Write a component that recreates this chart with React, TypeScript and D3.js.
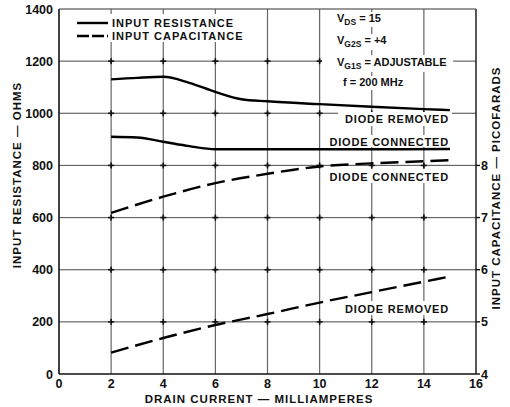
import React from "react";
import * as d3 from "d3";

const xTicks = [0, 2, 4, 6, 8, 10, 12, 14, 16];
const yTicks = [0, 200, 400, 600, 800, 1000, 1200, 1400];
const capTicks = [4, 5, 6, 7, 8];

const resRemovedX = [2, 3, 4, 5, 6, 7, 8, 10, 12, 14, 15];
const resRemovedY = [1130, 1136, 1140, 1117, 1082, 1054, 1046, 1035, 1025, 1016, 1012];
const resConnX = [2, 3, 4, 5, 6, 8, 10, 12, 15];
const resConnY = [910, 907, 891, 874, 862, 862, 862, 862, 863];
const capConnX = [2, 4, 6, 8, 10, 12, 14, 15];
const capConnY = [7.09, 7.4, 7.66, 7.84, 7.98, 8.04, 8.08, 8.1];
const capRemX = [2, 4, 6, 8, 10, 12, 14, 15];
const capRemY = [4.41, 4.69, 4.94, 5.15, 5.37, 5.57, 5.77, 5.87];

const W = 510, H = 407;
const L = 59, R = 476, T = 9, B = 374;
const font = "'Liberation Sans', Arial, sans-serif";

export default function App() {
  const x = d3.scaleLinear().domain([0, 16]).range([L, R]);
  const y = d3.scaleLinear().domain([0, 1400]).range([B, T]);
  const yc = d3.scaleLinear().domain([4, 11]).range([B, T]);

  const line = d3.line<[number, number]>().x(d => d[0]).y(d => d[1]).curve(d3.curveMonotoneX);
  const zipR = (xs: number[], ys: number[]) => xs.map((v, i) => [x(v), y(ys[i])] as [number, number]);
  const zipC = (xs: number[], ys: number[]) => xs.map((v, i) => [x(v), yc(ys[i])] as [number, number]);

  const txt = { fontFamily: font, fontWeight: 700, fill: "#111" } as const;

  const inner = xTicks.slice(1, -1);
  const innerY = yTicks.slice(1, -1);

  return (
    <svg width={W} height={H} style={{ position: "absolute", left: 0, top: 0, background: "#fff" }}>
      <rect x={0} y={0} width={W} height={H} fill="#fff" />
      {inner.map(t => (
        <rect key={"gx" + t} x={x(t) - 0.6} y={T} width={1.2} height={B - T} fill="#666" />
      ))}
      {innerY.map(t => (
        <rect key={"gy" + t} x={L} y={y(t) - 0.6} width={R - L} height={1.2} fill="#666" />
      ))}
      {inner.flatMap(tx =>
        innerY.map(ty => (
          <g key={"c" + tx + "_" + ty}>
            <rect x={x(tx) - 3} y={y(ty) - 0.8} width={6} height={1.6} fill="#111" />
            <rect x={x(tx) - 0.8} y={y(ty) - 3} width={1.6} height={6} fill="#111" />
          </g>
        ))
      )}
      {/* frame */}
      <line x1={L} x2={L} y1={T} y2={B} stroke="#111" strokeWidth={1.6} />
      <line x1={L} x2={R} y1={B} y2={B} stroke="#111" strokeWidth={1.6} />
      <line x1={R} x2={R} y1={T} y2={B} stroke="#111" strokeWidth={1.4} />
      <rect x={L} y={T - 0.6} width={R - L} height={1.2} fill="#555" />
      {capTicks.map(t => (
        <rect key={"rt" + t} x={R} y={yc(t) - 0.7} width={4} height={1.4} fill="#111" />
      ))}

      {/* white label backgrounds */}
      <rect x={338} y={112} width={114} height={14} fill="#fff" />
      <rect x={327} y={135} width={125} height={12} fill="#fff" />
      <rect x={327} y={169} width={125} height={14} fill="#fff" />
      <rect x={338} y={301} width={114} height={14} fill="#fff" />
      <rect x={74} y={14} width={170} height={28} fill="#fff" />
      <rect x={334} y={12} width={52} height={15} fill="#fff" />
      <rect x={334} y={34} width={58} height={16} fill="#fff" />
      <rect x={322} y={55} width={131} height={17} fill="#fff" />
      <rect x={340} y={76} width={76} height={14} fill="#fff" />

      {/* curves */}
      <path d={line(zipR(resRemovedX, resRemovedY)) || ""} fill="none" stroke="#000" strokeWidth={2.4} />
      <path d={line(zipR(resConnX, resConnY)) || ""} fill="none" stroke="#000" strokeWidth={2.4} />
      <path d={line(zipC(capConnX, capConnY)) || ""} fill="none" stroke="#000" strokeWidth={2.4} strokeDasharray="18 7" />
      <path d={line(zipC(capRemX, capRemY)) || ""} fill="none" stroke="#000" strokeWidth={2.4} strokeDasharray="18 7" />

      {/* tick labels */}
      {yTicks.map(t => (
        <text key={"yl" + t} x={53} y={y(t) + 4.5} textAnchor="end" fontSize={12.5} {...txt}>{t}</text>
      ))}
      {xTicks.map(t => (
        <text key={"xl" + t} x={x(t)} y={388} textAnchor="middle" fontSize={12.5} {...txt}>{t}</text>
      ))}
      {capTicks.map(t => (
        <text key={"cl" + t} x={481} y={yc(t) + 4.5} textAnchor="start" fontSize={12.5} {...txt}>{t}</text>
      ))}

      {/* axis titles */}
      <text x={259} y={403} textAnchor="middle" fontSize={11.5} letterSpacing={1} {...txt}>DRAIN CURRENT — MILLIAMPERES</text>
      <text transform={`translate(21,175) rotate(-90)`} textAnchor="middle" fontSize={11.5} letterSpacing={1} {...txt}>INPUT RESISTANCE — OHMS</text>
      <text transform={`translate(500,188) rotate(-90)`} textAnchor="middle" fontSize={11.5} letterSpacing={1} {...txt}>INPUT CAPACITANCE — PICOFARADS</text>

      {/* legend */}
      <line x1={77} x2={108} y1={23} y2={23} stroke="#000" strokeWidth={2.4} />
      <line x1={77} x2={108} y1={36} y2={36} stroke="#000" strokeWidth={2.4} strokeDasharray="12 3" />
      <text x={112} y={27} fontSize={11} letterSpacing={1} {...txt}>INPUT RESISTANCE</text>
      <text x={112} y={40} fontSize={11} letterSpacing={1} {...txt}>INPUT CAPACITANCE</text>

      {/* conditions */}
      <text x={337} y={22} fontSize={11} {...txt}>V<tspan fontSize={8.5} dy={3}>DS</tspan><tspan dy={-3}> = 15</tspan></text>
      <text x={337} y={44} fontSize={11} {...txt}>V<tspan fontSize={8.5} dy={3}>G2S</tspan><tspan dy={-3}> = +4</tspan></text>
      <text x={337} y={66} fontSize={11} {...txt}>V<tspan fontSize={8.5} dy={3}>G1S</tspan><tspan dy={-3}> = ADJUSTABLE</tspan></text>
      <text x={343} y={86} fontSize={11} {...txt}>f = 200 MHz</text>

      {/* curve labels */}
      <text x={449} y={123} textAnchor="end" fontSize={11} letterSpacing={0.8} {...txt}>DIODE REMOVED</text>
      <text x={449} y={146} textAnchor="end" fontSize={11} letterSpacing={0.8} {...txt}>DIODE CONNECTED</text>
      <text x={449} y={181} textAnchor="end" fontSize={11} letterSpacing={0.8} {...txt}>DIODE CONNECTED</text>
      <text x={449} y={313} textAnchor="end" fontSize={11} letterSpacing={0.8} {...txt}>DIODE REMOVED</text>
    </svg>
  );
}
